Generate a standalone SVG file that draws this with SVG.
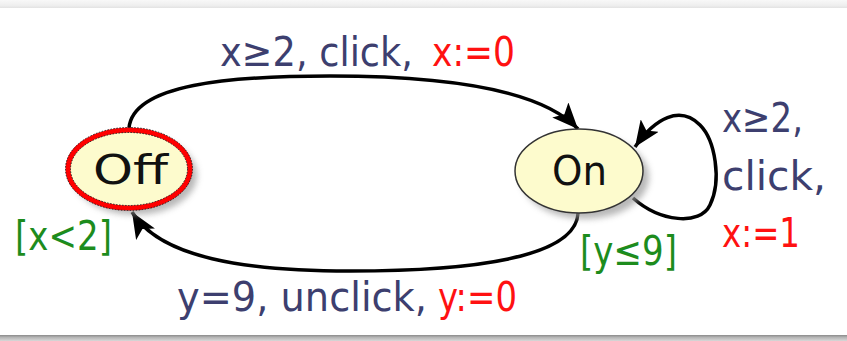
<svg xmlns="http://www.w3.org/2000/svg" width="847" height="341" viewBox="0 0 847 341">
  <defs>
    <linearGradient id="topBand" x1="0" y1="0" x2="0" y2="1">
      <stop offset="0" stop-color="#f8f8f8"/>
      <stop offset="0.7" stop-color="#eeeeee"/>
      <stop offset="1" stop-color="#e2e2e2"/>
    </linearGradient>
    <linearGradient id="bottomBand" x1="0" y1="0" x2="0" y2="1">
      <stop offset="0" stop-color="#8a8a8a"/>
      <stop offset="0.4" stop-color="#b5b5b5"/>
      <stop offset="1" stop-color="#d8d8d8"/>
    </linearGradient>
    <filter id="shadow" x="-30%" y="-30%" width="160%" height="160%">
      <feGaussianBlur stdDeviation="3"/>
    </filter>
    <marker id="arrow" markerUnits="userSpaceOnUse" markerWidth="28" markerHeight="22" refX="26" refY="11" orient="auto">
      <path d="M0,0 L26,11 L0,22 L6,11 Z" fill="#000"/>
    </marker>
    <style>
      .lbl { font-family: "DejaVu Sans", "Noto Sans", sans-serif; font-size: 40px; }
      .act { fill: #3d3f6f; }
      .rst { fill: #ff1111; }
      .inv { fill: #1d8c1d; }
      .state { fill: #fdfbcd; }
      .shade { fill: #9a9a9a; opacity: 0.7; filter: url(#shadow); }
      .name { font-family: "DejaVu Sans", "Noto Sans", sans-serif; font-size: 40px; fill: #111; }
      .edge { fill: none; stroke: #000; stroke-width: 3.5; marker-end: url(#arrow); }
    </style>
  </defs>

  <rect width="847" height="341" fill="#fff"/>
  <rect x="0" y="0" width="847" height="8" fill="url(#topBand)"/>
  <rect x="0" y="335" width="847" height="6" fill="url(#bottomBand)"/>

  <!-- transitions -->
  <g id="connectors">
    <path class="edge" d="M129,128 C133,84 230,76 330,76 C440,76 540,88 578,129"/>
    <path class="edge" d="M578,213 C576,258 470,271 350,271 C245,271 160,258 132,212"/>
    <path class="edge" d="M633,198 C660,222 700,226 710,205 C722,180 715,140 700,125 C680,105 655,118 635,147"/>
  </g>

  <!-- state Off (initial) -->
  <g id="off">
    <ellipse class="shade" cx="135" cy="175" rx="62" ry="40"/>
    <ellipse class="state" cx="129" cy="169" rx="61" ry="39" stroke="#ff0000" stroke-width="5"/>
    <ellipse cx="129" cy="169" rx="63.5" ry="41.5" fill="none" stroke="#222" stroke-width="1" stroke-dasharray="1.5 1.5"/>
    <ellipse cx="129" cy="169" rx="58.5" ry="36.5" fill="none" stroke="#222" stroke-width="1" stroke-dasharray="1.5 1.5"/>
    <text class="name" x="93" y="184" textLength="75" lengthAdjust="spacingAndGlyphs">Off</text>
    <text class="lbl inv" x="15" y="250" textLength="97" lengthAdjust="spacingAndGlyphs">[x&lt;2]</text>
  </g>

  <!-- state On -->
  <g id="on">
    <ellipse class="shade" cx="585" cy="177" rx="64" ry="42"/>
    <ellipse class="state" cx="579" cy="171" rx="64" ry="42" stroke="#333" stroke-width="1.5"/>
    <text class="name" x="552" y="185" textLength="55" lengthAdjust="spacingAndGlyphs">On</text>
    <text class="lbl inv" x="580" y="265" textLength="97" lengthAdjust="spacingAndGlyphs">[y≤9]</text>
  </g>

  <!-- edge labels -->
  <g id="labels">
    <text class="lbl act" x="220" y="66" textLength="193" lengthAdjust="spacingAndGlyphs">x≥2, click,</text>
    <text class="lbl rst" x="432" y="66" textLength="83" lengthAdjust="spacingAndGlyphs">x:=0</text>
    <text class="lbl act" x="177" y="311" textLength="250" lengthAdjust="spacingAndGlyphs">y=9, unclick,</text>
    <text class="lbl rst" x="438" y="311" textLength="79" lengthAdjust="spacingAndGlyphs">y:=0</text>
    <text class="lbl act" x="722" y="132" textLength="81" lengthAdjust="spacingAndGlyphs">x≥2,</text>
    <text class="lbl act" x="722" y="190" textLength="104" lengthAdjust="spacingAndGlyphs">click,</text>
    <text class="lbl rst" x="722" y="247" textLength="78" lengthAdjust="spacingAndGlyphs">x:=1</text>
  </g>
</svg>
